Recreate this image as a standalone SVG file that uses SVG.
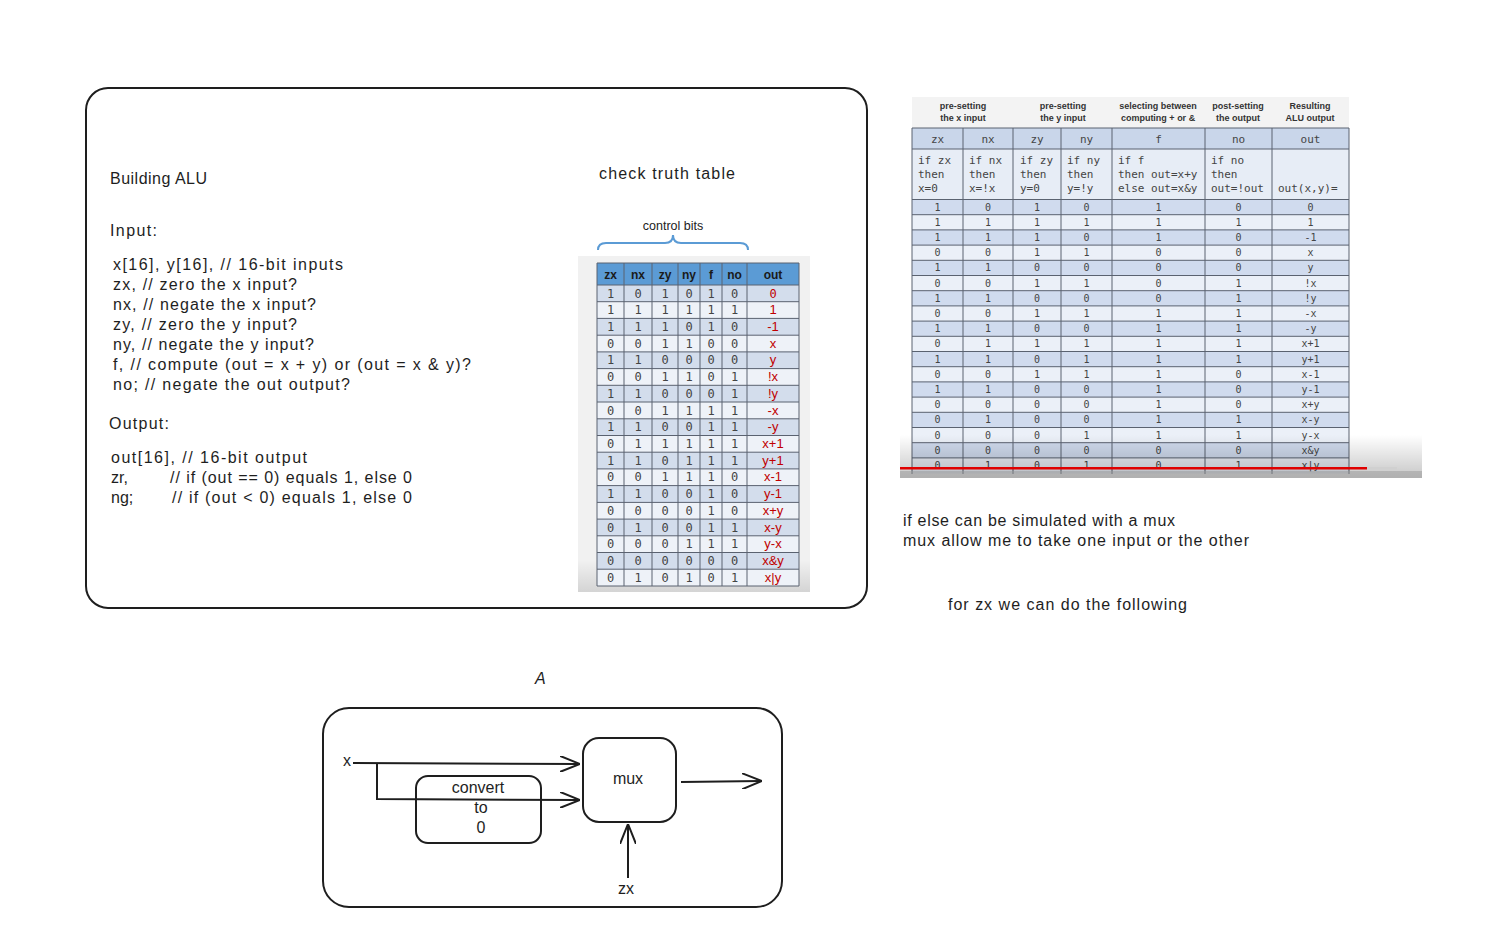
<svg xmlns="http://www.w3.org/2000/svg" width="1505" height="938" viewBox="0 0 1505 938">
<style>
.hw{font-family:"Liberation Sans","DejaVu Sans",sans-serif;font-size:16px;fill:#1e1e1e}
.frame{fill:none;stroke:#1e1e1e;stroke-width:2}
.ln{fill:none;stroke:#1e1e1e;stroke-width:2}
.lb{font-family:"DejaVu Sans Mono","Liberation Mono",monospace;font-size:12px;fill:#444;text-anchor:middle}
.lo{font-family:"Liberation Sans",sans-serif;font-size:13px;fill:#c00000;text-anchor:middle}
.lh{font-family:"Liberation Sans",sans-serif;font-size:12px;font-weight:bold;fill:#1a1a1a;text-anchor:middle}
.rb{font-family:"DejaVu Sans Mono","Liberation Mono",monospace;font-size:10px;fill:#444;text-anchor:middle}
.rd{font-family:"DejaVu Sans Mono","Liberation Mono",monospace;font-size:11px;fill:#444}
.rh{font-family:"Liberation Sans",sans-serif;font-size:9px;font-weight:bold;fill:#333;text-anchor:middle}
.grid{fill:none;stroke:#5a6270;stroke-width:1}
</style>
<defs>
<marker id="ah" viewBox="0 0 20 16" refX="19" refY="8" markerWidth="20" markerHeight="16" markerUnits="userSpaceOnUse" orient="auto">
<path d="M0,0 L20,8 L0,16" fill="none" stroke="#1e1e1e" stroke-width="2"/>
</marker>
<linearGradient id="shadeL" x1="0" y1="0" x2="0" y2="1">
<stop offset="0" stop-color="#000" stop-opacity="0"/>
<stop offset="1" stop-color="#000" stop-opacity="0.12"/>
</linearGradient>
<linearGradient id="shadeR" x1="0" y1="0" x2="0" y2="1">
<stop offset="0" stop-color="#000" stop-opacity="0"/>
<stop offset="1" stop-color="#000" stop-opacity="0.22"/>
</linearGradient>
</defs>
<rect width="1505" height="938" fill="#fff"/>

<g id="alu-spec">
<rect class="frame" x="86" y="88" width="781" height="520" rx="22"/>
<text class="hw" x="110" y="184" textLength="97">Building ALU</text>
<text class="hw" x="110" y="236" textLength="47">Input:</text>
<text class="hw" x="113" y="270" textLength="230">x[16], y[16],  // 16-bit inputs</text>
<text class="hw" x="113" y="290" textLength="184">zx, // zero the x input?</text>
<text class="hw" x="113" y="310" textLength="203">nx, // negate the x input?</text>
<text class="hw" x="113" y="330" textLength="184">zy, // zero the y input?</text>
<text class="hw" x="113" y="350" textLength="201">ny, // negate the y input?</text>
<text class="hw" x="113" y="370" textLength="358">f,  // compute (out = x + y) or (out = x &amp; y)?</text>
<text class="hw" x="113" y="390" textLength="237">no; // negate the out output?</text>
<text class="hw" x="109" y="429" textLength="60">Output:</text>
<text class="hw" x="111" y="463" textLength="196">out[16], // 16-bit output</text>
<text class="hw" x="111" y="483">zr,</text>
<text class="hw" x="170" y="483" textLength="242">// if (out == 0) equals 1, else 0</text>
<text class="hw" x="111" y="503">ng;</text>
<text class="hw" x="172" y="503" textLength="240">// if (out &lt; 0)  equals 1, else 0</text>
<text class="hw" x="599" y="179" textLength="136">check truth table</text>
</g>

<g id="left-table">
<rect x="578" y="256" width="232" height="336" fill="#f1f1f1"/>
<rect x="578" y="560" width="232" height="32" fill="url(#shadeL)"/>
<text x="673" y="230" font-family="Liberation Sans,sans-serif" font-size="12.5" fill="#222" text-anchor="middle">control bits</text>
<path d="M598,250 Q598,243 606,243 L665,243 Q673,243 673,235 Q673,243 681,243 L740,243 Q748,243 748,250" fill="none" stroke="#5b9bd5" stroke-width="2"/>
<rect x="597" y="263" width="202" height="22" fill="#5b9bd5"/>
<rect x="597" y="285" width="202" height="301" fill="#eef2f8"/>
<g fill="#d3ddec">
<rect x="597" y="285" width="202" height="16.72"/>
<rect x="597" y="318.4" width="202" height="16.72"/>
<rect x="597" y="351.9" width="202" height="16.72"/>
<rect x="597" y="385.3" width="202" height="16.72"/>
<rect x="597" y="418.8" width="202" height="16.72"/>
<rect x="597" y="452.2" width="202" height="16.72"/>
<rect x="597" y="485.6" width="202" height="16.72"/>
<rect x="597" y="519.1" width="202" height="16.72"/>
<rect x="597" y="552.5" width="202" height="16.72"/>
</g>
<path class="grid" d="M597,263H799V586H597Z M624,263V586 M652,263V586 M678,263V586 M700,263V586 M722,263V586 M747,263V586 M597,285H799 M597,301.7H799 M597,318.4H799 M597,335.2H799 M597,351.9H799 M597,368.6H799 M597,385.3H799 M597,402H799 M597,418.8H799 M597,435.5H799 M597,452.2H799 M597,468.9H799 M597,485.6H799 M597,502.4H799 M597,519.1H799 M597,535.8H799 M597,552.5H799 M597,569.2H799"/>
<text class="lh" x="610.5" y="279">zx</text>
<text class="lh" x="638" y="279">nx</text>
<text class="lh" x="665" y="279">zy</text>
<text class="lh" x="689" y="279">ny</text>
<text class="lh" x="711" y="279">f</text>
<text class="lh" x="734.5" y="279">no</text>
<text class="lh" x="773" y="279">out</text>
<text class="lb" x="610.5 638 665 689 711 734.5" y="297.5">101010</text>
<text class="lb" x="610.5 638 665 689 711 734.5" y="314.2">111111</text>
<text class="lb" x="610.5 638 665 689 711 734.5" y="330.9">111010</text>
<text class="lb" x="610.5 638 665 689 711 734.5" y="347.7">001100</text>
<text class="lb" x="610.5 638 665 689 711 734.5" y="364.4">110000</text>
<text class="lb" x="610.5 638 665 689 711 734.5" y="381.1">001101</text>
<text class="lb" x="610.5 638 665 689 711 734.5" y="397.8">110001</text>
<text class="lb" x="610.5 638 665 689 711 734.5" y="414.5">001111</text>
<text class="lb" x="610.5 638 665 689 711 734.5" y="431.3">110011</text>
<text class="lb" x="610.5 638 665 689 711 734.5" y="448">011111</text>
<text class="lb" x="610.5 638 665 689 711 734.5" y="464.7">110111</text>
<text class="lb" x="610.5 638 665 689 711 734.5" y="481.4">001110</text>
<text class="lb" x="610.5 638 665 689 711 734.5" y="498.1">110010</text>
<text class="lb" x="610.5 638 665 689 711 734.5" y="514.9">000010</text>
<text class="lb" x="610.5 638 665 689 711 734.5" y="531.6">010011</text>
<text class="lb" x="610.5 638 665 689 711 734.5" y="548.3">000111</text>
<text class="lb" x="610.5 638 665 689 711 734.5" y="565">000000</text>
<text class="lb" x="610.5 638 665 689 711 734.5" y="581.7">010101</text>
<text class="lb" x="773" y="297.5" style="fill:#c00000">0</text>
<text class="lo" x="773" y="314.2">1</text>
<text class="lo" x="773" y="330.9">-1</text>
<text class="lo" x="773" y="347.7">x</text>
<text class="lo" x="773" y="364.4">y</text>
<text class="lo" x="773" y="381.1">!x</text>
<text class="lo" x="773" y="397.8">!y</text>
<text class="lo" x="773" y="414.5">-x</text>
<text class="lo" x="773" y="431.3">-y</text>
<text class="lo" x="773" y="448">x+1</text>
<text class="lo" x="773" y="464.7">y+1</text>
<text class="lo" x="773" y="481.4">x-1</text>
<text class="lo" x="773" y="498.1">y-1</text>
<text class="lo" x="773" y="514.9">x+y</text>
<text class="lo" x="773" y="531.6">x-y</text>
<text class="lo" x="773" y="548.3">y-x</text>
<text class="lo" x="773" y="565">x&amp;y</text>
<text class="lo" x="773" y="581.7">x|y</text>
</g>

<g id="right-table">
<rect x="900" y="95" width="522" height="383" fill="#fff"/>
<rect x="912" y="97" width="437" height="31" fill="#f3f3f3"/>
<rect x="912" y="128" width="437" height="21" fill="#c9d6ea"/>
<rect x="912" y="149" width="437" height="50" fill="#e7edf6"/>
<rect x="912" y="199.5" width="437" height="274" fill="#ebf0f8"/>
<g fill="#d0dbee">
<rect x="912" y="199.5" width="437" height="15.2"/>
<rect x="912" y="229.9" width="437" height="15.2"/>
<rect x="912" y="260.3" width="437" height="15.2"/>
<rect x="912" y="290.7" width="437" height="15.2"/>
<rect x="912" y="321.1" width="437" height="15.2"/>
<rect x="912" y="351.5" width="437" height="15.2"/>
<rect x="912" y="381.9" width="437" height="15.2"/>
<rect x="912" y="412.3" width="437" height="15.2"/>
<rect x="912" y="442.7" width="437" height="15.2"/>
</g>
<path class="grid" d="M912,128H1349V474 M912,128V474 M963,128V474 M1013,128V474 M1061,128V474 M1112,128V474 M1205,128V474 M1272,128V474 M912,149H1349 M912,199.5H1349 M912,214.7H1349 M912,229.9H1349 M912,245.1H1349 M912,260.3H1349 M912,275.5H1349 M912,290.7H1349 M912,305.9H1349 M912,321.1H1349 M912,336.3H1349 M912,351.5H1349 M912,366.7H1349 M912,381.9H1349 M912,397.1H1349 M912,412.3H1349 M912,427.5H1349 M912,442.7H1349 M912,457.9H1349"/>
<text class="rh" x="963" y="109">pre-setting</text>
<text class="rh" x="963" y="121">the x input</text>
<text class="rh" x="1063" y="109">pre-setting</text>
<text class="rh" x="1063" y="121">the y input</text>
<text class="rh" x="1158" y="109">selecting between</text>
<text class="rh" x="1158" y="121">computing + or &amp;</text>
<text class="rh" x="1238" y="109">post-setting</text>
<text class="rh" x="1238" y="121">the output</text>
<text class="rh" x="1310" y="109">Resulting</text>
<text class="rh" x="1310" y="121">ALU output</text>
<g class="rd" text-anchor="middle">
<text x="937.5" y="143">zx</text>
<text x="988" y="143">nx</text>
<text x="1037" y="143">zy</text>
<text x="1086.5" y="143">ny</text>
<text x="1158.5" y="143">f</text>
<text x="1238.5" y="143">no</text>
<text x="1310.5" y="143">out</text>
</g>
<text class="rd" x="918" y="164">if zx</text>
<text class="rd" x="918" y="178">then</text>
<text class="rd" x="918" y="192">x=0</text>
<text class="rd" x="969" y="164">if nx</text>
<text class="rd" x="969" y="178">then</text>
<text class="rd" x="969" y="192">x=!x</text>
<text class="rd" x="1020" y="164">if zy</text>
<text class="rd" x="1020" y="178">then</text>
<text class="rd" x="1020" y="192">y=0</text>
<text class="rd" x="1067" y="164">if ny</text>
<text class="rd" x="1067" y="178">then</text>
<text class="rd" x="1067" y="192">y=!y</text>
<text class="rd" x="1118" y="164">if f</text>
<text class="rd" x="1118" y="178">then out=x+y</text>
<text class="rd" x="1118" y="192">else out=x&amp;y</text>
<text class="rd" x="1211" y="164">if no</text>
<text class="rd" x="1211" y="178">then</text>
<text class="rd" x="1211" y="192">out=!out</text>
<text class="rd" x="1278" y="192">out(x,y)=</text>
<text class="rb" x="937.5 988 1037 1086.5 1158.5 1238.5" y="210.5">101010</text>
<text class="rb" x="937.5 988 1037 1086.5 1158.5 1238.5" y="225.7">111111</text>
<text class="rb" x="937.5 988 1037 1086.5 1158.5 1238.5" y="240.9">111010</text>
<text class="rb" x="937.5 988 1037 1086.5 1158.5 1238.5" y="256.1">001100</text>
<text class="rb" x="937.5 988 1037 1086.5 1158.5 1238.5" y="271.3">110000</text>
<text class="rb" x="937.5 988 1037 1086.5 1158.5 1238.5" y="286.5">001101</text>
<text class="rb" x="937.5 988 1037 1086.5 1158.5 1238.5" y="301.7">110001</text>
<text class="rb" x="937.5 988 1037 1086.5 1158.5 1238.5" y="316.9">001111</text>
<text class="rb" x="937.5 988 1037 1086.5 1158.5 1238.5" y="332.1">110011</text>
<text class="rb" x="937.5 988 1037 1086.5 1158.5 1238.5" y="347.3">011111</text>
<text class="rb" x="937.5 988 1037 1086.5 1158.5 1238.5" y="362.5">110111</text>
<text class="rb" x="937.5 988 1037 1086.5 1158.5 1238.5" y="377.7">001110</text>
<text class="rb" x="937.5 988 1037 1086.5 1158.5 1238.5" y="392.9">110010</text>
<text class="rb" x="937.5 988 1037 1086.5 1158.5 1238.5" y="408.1">000010</text>
<text class="rb" x="937.5 988 1037 1086.5 1158.5 1238.5" y="423.3">010011</text>
<text class="rb" x="937.5 988 1037 1086.5 1158.5 1238.5" y="438.5">000111</text>
<text class="rb" x="937.5 988 1037 1086.5 1158.5 1238.5" y="453.7">000000</text>
<text class="rb" x="937.5 988 1037 1086.5 1158.5 1238.5" y="468.9">010101</text>
<g class="rb">
<text x="1310.5" y="210.5">0</text>
<text x="1310.5" y="225.7">1</text>
<text x="1310.5" y="240.9">-1</text>
<text x="1310.5" y="256.1">x</text>
<text x="1310.5" y="271.3">y</text>
<text x="1310.5" y="286.5">!x</text>
<text x="1310.5" y="301.7">!y</text>
<text x="1310.5" y="316.9">-x</text>
<text x="1310.5" y="332.1">-y</text>
<text x="1310.5" y="347.3">x+1</text>
<text x="1310.5" y="362.5">y+1</text>
<text x="1310.5" y="377.7">x-1</text>
<text x="1310.5" y="392.9">y-1</text>
<text x="1310.5" y="408.1">x+y</text>
<text x="1310.5" y="423.3">x-y</text>
<text x="1310.5" y="438.5">y-x</text>
<text x="1310.5" y="453.7">x&amp;y</text>
<text x="1310.5" y="468.9">x|y</text>
</g>
<rect x="900" y="435" width="522" height="43" fill="url(#shadeR)"/>
<rect x="900" y="471" width="522" height="7" fill="#9a9a9a" opacity="0.5"/>
<rect x="1367" y="467" width="30" height="2.5" fill="#d0d0d0"/>
<rect x="900" y="467" width="467" height="2.5" fill="#e00000"/>
</g>

<g id="notes">
<text class="hw" x="903" y="526" textLength="272">if else can be simulated with a mux</text>
<text class="hw" x="903" y="546" textLength="346">mux allow me to take one input or the other</text>
<text class="hw" x="948" y="610" textLength="239">for zx we can do the following</text>
<text class="hw" x="535" y="684" font-style="italic">A</text>
</g>

<g id="zx-circuit">
<rect class="frame" x="323" y="708" width="459" height="199" rx="26"/>
</g>
<g id="mux">
<rect class="frame" x="583" y="738" width="93" height="84" rx="16"/>
<text class="hw" x="628" y="784" font-size="13" text-anchor="middle">mux</text>
</g>
<g id="convert">
<rect class="frame" x="416" y="776" width="125" height="67" rx="12"/>
<text class="hw" x="478" y="793" text-anchor="middle">convert</text>
<text class="hw" x="481" y="813" text-anchor="middle">to</text>
<text class="hw" x="481" y="833" text-anchor="middle">0</text>
</g>
<g id="labels">
<text class="hw" x="347" y="766" font-size="13" text-anchor="middle">x</text>
<text class="hw" x="626" y="894" font-size="13" text-anchor="middle">zx</text>
</g>
<g id="connectors">
<path class="ln" d="M353,763 L579,764" marker-end="url(#ah)"/>
<path class="ln" d="M377,764 L377,799 L579,800" marker-end="url(#ah)"/>
<path class="ln" d="M681,782 L761,781" marker-end="url(#ah)"/>
<path class="ln" d="M628,878 L628,825" marker-end="url(#ah)"/>
</g>
</svg>
